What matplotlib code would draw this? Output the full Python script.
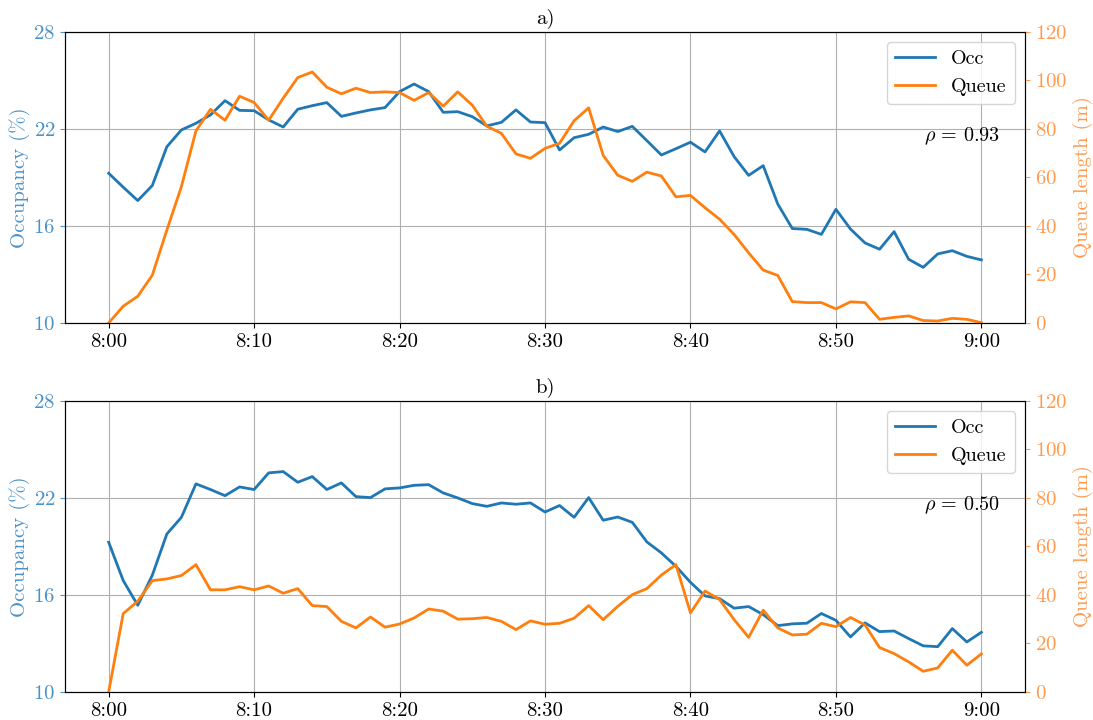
import numpy as np
import matplotlib
matplotlib.use("Agg")
import matplotlib.pyplot as plt

plt.rcParams['font.family'] = 'serif'
plt.rcParams['font.serif'] = ['cmr10', 'DejaVu Serif']
plt.rcParams['mathtext.fontset'] = 'cm'
plt.rcParams['axes.formatter.use_mathtext'] = True
plt.rcParams['font.size'] = 15

# minutes after 8:00
minutes = np.arange(0, 61)
xtick_pos = [0, 10, 20, 30, 40, 50, 60]
xtick_lab = ['8:00', '8:10', '8:20', '8:30', '8:40', '8:50', '9:00']

# a) occupancy (%) and queue length (m)
occ_a = [19.26, 18.4, 17.57, 18.5, 20.9, 21.94, 22.35, 22.87, 23.75, 23.15,
         23.13, 22.56, 22.12, 23.22, 23.44, 23.63, 22.78, 22.99, 23.18, 23.32,
         24.31, 24.78, 24.31, 23.03, 23.07, 22.76, 22.19, 22.41, 23.18, 22.43,
         22.39, 20.70, 21.46, 21.67, 22.12, 21.84, 22.16, 21.28, 20.39, 20.78,
         21.18, 20.58, 21.88, 20.29, 19.13, 19.73, 17.36, 15.84, 15.79, 15.48,
         17.03, 15.81, 14.95, 14.56, 15.65, 13.94, 13.44, 14.27, 14.47, 14.12,
         13.90]
queue_a = [0.0, 6.9, 11.0, 19.7, 38.3, 56.2, 79.2, 88.1, 83.6, 93.5,
           90.9, 83.6, 92.7, 101.2, 103.5, 97.2, 94.5, 96.8, 95.0, 95.3,
           95.0, 91.8, 95.0, 89.4, 95.3, 89.8, 81.1, 78.2, 69.7, 67.9,
           72.0, 74.1, 83.4, 88.7, 69.1, 60.9, 58.4, 62.2, 60.6, 52.0,
           52.6, 47.5, 42.8, 36.5, 28.9, 21.8, 19.6, 8.8, 8.4, 8.4,
           5.8, 8.7, 8.4, 1.5, 2.3, 2.9, 1.0, 0.8, 1.9, 1.5,
           0.1]

# b)
occ_b = [19.26, 16.89, 15.36, 17.22, 19.77, 20.80, 22.87, 22.52, 22.14, 22.68,
         22.52, 23.55, 23.63, 22.97, 23.32, 22.52, 22.93, 22.08, 22.02, 22.56,
         22.62, 22.78, 22.82, 22.31, 22.00, 21.65, 21.48, 21.69, 21.61, 21.69,
         21.13, 21.53, 20.80, 22.02, 20.62, 20.82, 20.49, 19.28, 18.60, 17.77,
         16.78, 15.94, 15.77, 15.18, 15.28, 14.78, 14.10, 14.21, 14.25, 14.85,
         14.43, 13.40, 14.27, 13.73, 13.77, 13.30, 12.85, 12.80, 13.92, 13.09,
         13.69]
queue_b = [0.0, 32.3, 37.4, 45.9, 46.6, 48.0, 52.5, 42.1, 42.1, 43.4,
           42.1, 43.7, 40.7, 42.6, 35.6, 35.2, 29.1, 26.4, 30.9, 26.7,
           28.0, 30.5, 34.2, 33.3, 30.0, 30.2, 30.7, 29.1, 25.7, 29.3,
           27.9, 28.3, 30.4, 35.6, 29.8, 35.3, 40.1, 42.6, 48.2, 52.5,
           32.6, 41.6, 38.1, 29.8, 22.5, 33.7, 26.4, 23.5, 23.8, 28.3,
           26.9, 30.7, 27.6, 18.3, 15.8, 12.4, 8.5, 9.9, 17.2, 11.0,
           15.7]

panels = [('a)', occ_a, queue_a, 0.93), ('b)', occ_b, queue_b, 0.50)]

blue_lab = '#4b92c8'
orange_lab = '#ff9a4e'

fig, axes = plt.subplots(2, 1, figsize=(10.93, 7.2), dpi=100)
fig.subplots_adjust(left=0.0595, right=0.9378, top=0.9556, bottom=0.039, hspace=0.268)

for ax, (title, occ, queue, rho) in zip(axes, panels):
    l1, = ax.plot(minutes, occ, color='C0', lw=2, label='Occ')
    ax.set_ylim(10, 28)
    ax.set_yticks([10, 16, 22, 28])
    ax.set_ylabel('Occupancy (%)', color=blue_lab, labelpad=2)
    ax.tick_params(axis='y', colors=blue_lab)
    ax.set_xticks(xtick_pos)
    ax.set_xticklabels(xtick_lab)
    ax.grid(True)
    ax.set_title(title, fontsize=15, pad=6)

    ax2 = ax.twinx()
    l2, = ax2.plot(minutes, queue, color='C1', lw=2, label='Queue')
    ax2.set_ylim(0, 120)
    ax2.set_yticks([0, 20, 40, 60, 80, 100, 120])
    ax2.set_ylabel('Queue length (m)', color=orange_lab)
    ax2.tick_params(axis='y', colors=orange_lab)

    ax2.legend(handles=[l1, l2], loc='upper right', fontsize=14.5)
    ax.text(0.895, 0.64, r'$\rho\,=\,%.2f$' % rho, transform=ax.transAxes,
            fontsize=14.5, va='center', ha='left')

fig.savefig('out.png', dpi=100)
